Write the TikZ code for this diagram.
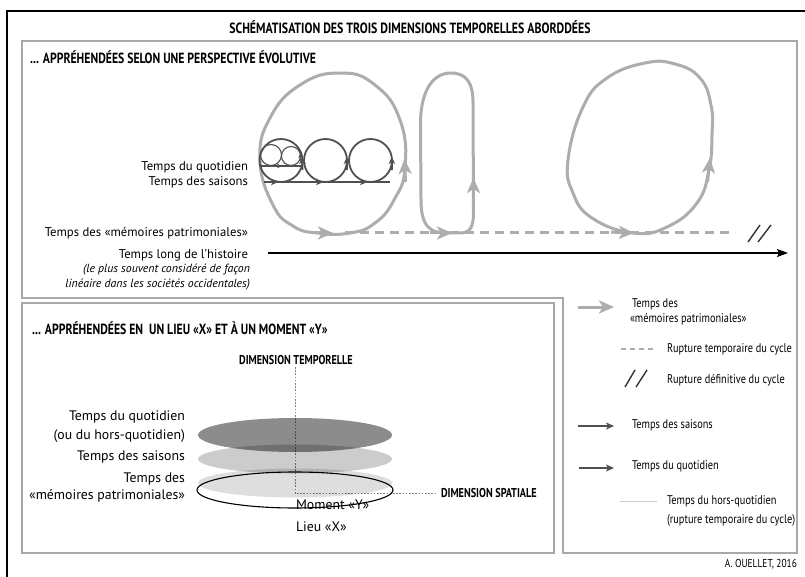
\documentclass[tikz,border=0pt]{standalone}
\usepackage{fontspec}
\setmainfont{PT Sans}
\newfontfamily\condfont[FakeStretch=0.8]{PT Sans}
\newfontfamily\legfont[FakeStretch=0.82]{PT Sans}
\usetikzlibrary{arrows.meta}
\definecolor{loopgray}{HTML}{ADADAD}
\definecolor{panelgray}{HTML}{A8A8A8}
\definecolor{darkline}{HTML}{505050}
\begin{document}
\begin{tikzpicture}[x=1pt,y=-1pt,
  every node/.style={inner sep=0pt, outer sep=0pt},
  titletxt/.style={font=\condfont\bfseries\fontsize{14.8}{16}\selectfont},
  headtxt/.style={font=\condfont\bfseries\fontsize{14.7}{16}\selectfont},
  axistxt/.style={font=\condfont\bfseries\fontsize{12.8}{14}\selectfont},
  bodytxt/.style={font=\fontsize{12.7}{15}\selectfont},
  lowtxt/.style={font=\fontsize{13.8}{16}\selectfont},
  itatxt/.style={font=\itshape\fontsize{11.8}{14}\selectfont},
  legtxt/.style={font=\legfont\fontsize{12.6}{15}\selectfont},
  loopline/.style={loopgray, line width=3pt},
  gtip/.style={loopgray, line width=3pt, -{Stealth[length=15pt,width=13pt,inset=4pt]}},
  saisline/.style={darkline, line width=1.8pt},
  stip/.style={darkline, line width=1.8pt, -{Stealth[length=7pt,width=6.5pt,inset=2pt]}},
  qline/.style={darkline, line width=1.1pt},
  qtip/.style={darkline, line width=1.1pt, -{Stealth[length=5pt,width=4.5pt,inset=1.5pt]}},
  slash/.style={black!80, line width=1.4pt},
  gdash/.style={loopgray, line width=3pt, dash pattern=on 9pt off 6pt},
  dotaxis/.style={gray, line width=0.9pt, dash pattern=on 1.6pt off 1.6pt}
]
\useasboundingbox (0,0) rectangle (805,577);
\fill[white] (0,0) rectangle (805,577);

% frames
\draw[black, line width=1.5pt] (7,580) -- (7,11) -- (810,11);
\draw[panelgray, line width=1.5pt] (22,41) -- (797,41) -- (797,553) -- (563,553) -- (563,298) -- (22,298) -- cycle;
\draw[panelgray, line width=1.5pt] (22,303) rectangle (554,553);

% titles
\node[titletxt] (title) at (410,27) {SCHÉMATISATION DES TROIS DIMENSIONS TEMPORELLES ABORDDÉES};
\node[headtxt, anchor=west] (h1) at (30,57) {... APPRÉHENDÉES SELON UNE PERSPECTIVE ÉVOLUTIVE};
\node[headtxt, anchor=west] (h2) at (32,328) {... APPRÉHENDÉES EN\ \ UN LIEU «X» ET À UN MOMENT «Y»};

% ---------- upper panel ----------
\coordinate (hs) at (268,253);
\coordinate (he) at (788,253);
\draw[black, line width=1.3pt, -{Stealth[length=11pt,width=8pt,inset=2pt]}] (hs) -- (he);

\coordinate (ds) at (345,233);
\coordinate (de) at (735,233);
\draw[gdash] (ds) -- (de);

% loop 1
\draw[loopline] plot[smooth cycle, tension=0.8] coordinates {
  (317,233) (350,233) (375,223) (394,200) (405,168) (400,120) (375,85) (340,73)
  (300,85) (270,118) (260,160) (273,205) (293,226)};
\draw[gtip] (311,233) -- (333,233);
\draw[gtip] (405.5,182) -- (404.5,159);

% loop 2
\draw[loopline] (421,200) .. controls (421,226) and (430,233) .. (446,233) -- (460,233)
  .. controls (471,233) and (473.5,226) .. (473.5,212) -- (473,102)
  .. controls (473,84) and (467,73) .. (451,73)
  .. controls (431,73) and (420,94) .. (420.5,126) -- cycle;
\draw[gtip] (430,233) -- (452,233);
\draw[gtip] (473.5,200) -- (473.5,178);

% loop 3
\draw[loopline] plot[smooth cycle, tension=0.75] coordinates {
  (633,233) (667,227) (697,203) (709,170) (712,135) (711,105) (700,78) (675,64) (645,63)
  (607,78) (583,107) (568,160) (573,193) (592,218)};
\draw[gtip] (611,232) -- (634,233);
\draw[gtip] (707.5,182) -- (710,158);

% rupture definitive
\draw[slash] (748,242) -- (760,225);
\draw[slash] (758,242) -- (771,225);

% seasons (dark circles)
\draw[saisline] (264,182) -- (390,182);
\draw[saisline] (281,160.5) circle (21.5);
\draw[saisline] (325.5,160.5) circle (21.5);
\draw[saisline] (370.5,160.5) circle (21.5);
\draw[stip] (266,182) -- (278,182);
\draw[stip] (310,182) -- (323,182);
\draw[stip] (354,182) -- (367,182);
\draw[stip] (302.5,170) -- (302.3,157);
\draw[stip] (347,170) -- (346.8,157);
\draw[stip] (392,170) -- (391.8,157);

% daily (small circles)
\draw[qline] (261,166) -- (301,166);
\draw[qline] (271,155) circle (10.5);
\draw[qline] (291,156) circle (9.5);
\draw[qtip] (274,166) -- (282,166);
\draw[qtip] (300.5,161) -- (300.5,153);

% labels upper panel
\node[bodytxt, anchor=east] (lq) at (248,167) {Temps du quotidien};
\node[bodytxt, anchor=east] (ls) at (248,182) {Temps des saisons};
\node[bodytxt, anchor=east] (lm) at (248,233) {Temps des «mémoires patrimoniales»};
\node[bodytxt, anchor=east] (lh) at (248,255) {Temps long de l’histoire};
\node[itatxt, anchor=east] (li1) at (250,270) {(le plus souvent considéré de façon};
\node[itatxt, anchor=east] (li2) at (250,285) {linéaire dans les sociétés occidentales)};

% ---------- lower-left panel ----------
\node[axistxt] (dt) at (296,360) {DIMENSION TEMPORELLE};
\node[axistxt, anchor=west] (dsp) at (441,493) {DIMENSION SPATIALE};
\coordinate (o) at (295,493);
\draw[dotaxis] (295,367) -- (o) -- (437,493);

\fill[black, fill opacity=0.45] (295,435) ellipse [x radius=97, y radius=17];
\fill[black, fill opacity=0.2] (295,459) ellipse [x radius=97, y radius=14.5];
\fill[black, fill opacity=0.13] (295,483) ellipse [x radius=97, y radius=14.5];
\draw[black, line width=1.1pt] (295,490) ellipse [x radius=98, y radius=18];

\node[lowtxt, anchor=east] (b1) at (185,417) {Temps du quotidien};
\node[lowtxt, anchor=east] (b2) at (185,436) {(ou du hors-quotidien)};
\node[lowtxt, anchor=east] (b3) at (185,457) {Temps des saisons};
\node[lowtxt, anchor=east] (b4) at (185,479) {Temps des};
\node[lowtxt, anchor=east] (b5) at (185,496) {«mémoires patrimoniales»};
\node[lowtxt, anchor=west] (mom) at (296,505) {Moment «Y»};
\node[lowtxt, anchor=west] (lieu) at (296,527) {Lieu «X»};

% ---------- legend ----------
\coordinate (g1a) at (578,307); \coordinate (g1b) at (614,307);
\draw[gtip] (g1a) -- (g1b);
\node[legtxt, anchor=west] (t1) at (632,304) {Temps des};
\node[legtxt, anchor=west] (t1b) at (630,319) {«mémoires patrimoniales»};

\coordinate (g2a) at (621,349); \coordinate (g2b) at (657,349);
\draw[loopgray, line width=2.5pt, dash pattern=on 5pt off 4pt] (g2a) -- (g2b);
\node[legtxt, anchor=west] (t2) at (667,349) {Rupture temporaire du cycle};

\draw[slash] (625,387) -- (635,370);
\draw[slash] (636,387) -- (647,370);
\node[legtxt, anchor=west] (t3) at (667,380) {Rupture définitive du cycle};

\coordinate (g4a) at (578,426); \coordinate (g4b) at (614,426);
\draw[darkline, line width=1.8pt, -{Stealth[length=8pt,width=7pt,inset=2pt]}] (g4a) -- (g4b);
\node[legtxt, anchor=west] (t4) at (632,425) {Temps des saisons};

\coordinate (g5a) at (579,468); \coordinate (g5b) at (614,468);
\draw[darkline, line width=1.2pt, -{Stealth[length=8pt,width=7pt,inset=2pt]}] (g5a) -- (g5b);
\node[legtxt, anchor=west] (t5) at (632,466) {Temps du quotidien};

\coordinate (g6a) at (620,501); \coordinate (g6b) at (657,501);
\draw[black!20, line width=1pt] (g6a) -- (g6b);
\node[legtxt, anchor=west] (t6) at (667,501) {Temps du hors-quotidien};
\node[legtxt, anchor=west] (t6b) at (667,520) {(rupture temporaire du cycle)};

\node[font=\legfont\fontsize{11.5}{13}\selectfont, anchor=east] (auth) at (797,564) {A. OUELLET, 2016};
\end{tikzpicture}
\end{document}
